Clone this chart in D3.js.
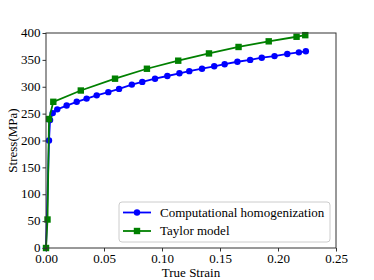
<!DOCTYPE html>
<html>
<head>
<meta charset="utf-8">
<script src="https://cdn.jsdelivr.net/npm/d3@7"></script>
<style>
body { margin: 0; background: #fff; }
svg { display: block; }
</style>
</head>
<body>
<svg id="chart" width="374" height="280"></svg>
<script>
// computational homogenization (blue)
let compStrain = [0, 0.0026, 0.0035, 0.0058, 0.0097, 0.0178, 0.0265, 0.035, 0.0437, 0.0537, 0.063, 0.074, 0.083,
    0.094, 0.1046, 0.115, 0.1235, 0.1345, 0.145, 0.154, 0.165, 0.176, 0.186, 0.197, 0.208, 0.218, 0.224];
let compStress = [0, 200, 238, 251, 258, 265, 272, 278, 284, 290, 296, 304, 309,
    315, 320, 325, 329, 333.6, 338, 342, 346.5, 350, 354, 357, 361, 364, 366];
// taylor model (green)
let taylorStrain = [0, 0.0013, 0.0026, 0.0063, 0.030, 0.0595, 0.087, 0.114, 0.1405, 0.166, 0.192, 0.216, 0.2235];
let taylorStress = [0, 53, 240, 272, 293, 315, 333.5, 348.5, 362, 374, 384.5, 393, 396];
let xTicks = [0, 0.05, 0.10, 0.15, 0.20, 0.25];
let yTicks = [0, 50, 100, 150, 200, 250, 300, 350, 400];
let seriesNames = ['Computational homogenization', 'Taylor model'];

let svg = d3.select('#chart');
let pLeft = 46, pRight = 336, pTop = 33, pBottom = 248;
let x = d3.scaleLinear().domain([0, 0.25]).range([pLeft, pRight]);
let y = d3.scaleLinear().domain([0, 400]).range([pBottom, pTop]);

let comp = compStrain.map((s, i) => [s, compStress[i]]);
let taylor = taylorStrain.map((s, i) => [s, taylorStress[i]]);
let line = d3.line().x(d => x(d[0])).y(d => y(d[1]));

svg.append('path').datum(comp).attr('d', line).attr('fill', 'none')
    .attr('stroke', '#0000ff').attr('stroke-width', 1.8);
svg.selectAll('.cdot').data(comp).enter().append('circle')
    .attr('cx', d => x(d[0])).attr('cy', d => y(d[1])).attr('r', 3.2).attr('fill', '#0000ff');

svg.append('path').datum(taylor).attr('d', line).attr('fill', 'none')
    .attr('stroke', '#008000').attr('stroke-width', 1.8);
svg.selectAll('.tsq').data(taylor).enter().append('rect')
    .attr('x', d => x(d[0]) - 3.2).attr('y', d => y(d[1]) - 3.2)
    .attr('width', 6.4).attr('height', 6.4).attr('fill', '#008000');

// axes
let xAxis = svg.append('g').attr('transform', `translate(0,${pBottom})`)
    .call(d3.axisBottom(x).tickValues(xTicks).tickFormat(d3.format('.2f')).tickSize(3.5).tickPadding(2));
let yAxis = svg.append('g').attr('transform', `translate(${pLeft},0)`)
    .call(d3.axisLeft(y).tickValues(yTicks).tickSize(3.5).tickPadding(2));
[xAxis, yAxis].forEach(a => {
    a.select('.domain').remove();
    a.selectAll('line').attr('stroke', '#333');
});
yAxis.selectAll('text').attr('dy', '0.28em');

svg.append('rect').attr('x', pLeft).attr('y', pTop).attr('width', pRight - pLeft).attr('height', pBottom - pTop)
    .attr('fill', 'none').attr('stroke', '#333').attr('stroke-width', 1);

svg.append('text').attr('x', (pLeft + pRight) / 2).attr('y', 277).attr('text-anchor', 'middle')
    .text('True Strain');
svg.append('text').attr('transform', `translate(17,${(pTop + pBottom) / 2}) rotate(-90)`)
    .attr('text-anchor', 'middle').text('Stress(MPa)');

// legend
let lg = svg.append('g');
lg.append('rect').attr('x', 119).attr('y', 202).attr('width', 211).attr('height', 40).attr('rx', 3)
    .attr('fill', '#fff').attr('fill-opacity', 0.8).attr('stroke', '#ccc').attr('stroke-width', 1);
let colors = ['#0000ff', '#008000'];
seriesNames.forEach((name, i) => {
    let cy = 212.5 + i * 18.5;
    lg.append('line').attr('x1', 123).attr('x2', 151).attr('y1', cy).attr('y2', cy)
        .attr('stroke', colors[i]).attr('stroke-width', 1.8);
    if (i === 0) lg.append('circle').attr('cx', 137).attr('cy', cy).attr('r', 3.2).attr('fill', colors[i]);
    else lg.append('rect').attr('x', 133.8).attr('y', cy - 3.2).attr('width', 6.4).attr('height', 6.4).attr('fill', colors[i]);
    lg.append('text').attr('x', 160).attr('y', cy + 4.4).text(name);
});

svg.selectAll('text')
    .style('font-family', '"Liberation Serif", "Times New Roman", "DejaVu Serif", serif')
    .style('font-size', '13px').attr('fill', '#000');
</script>
</body>
</html>
